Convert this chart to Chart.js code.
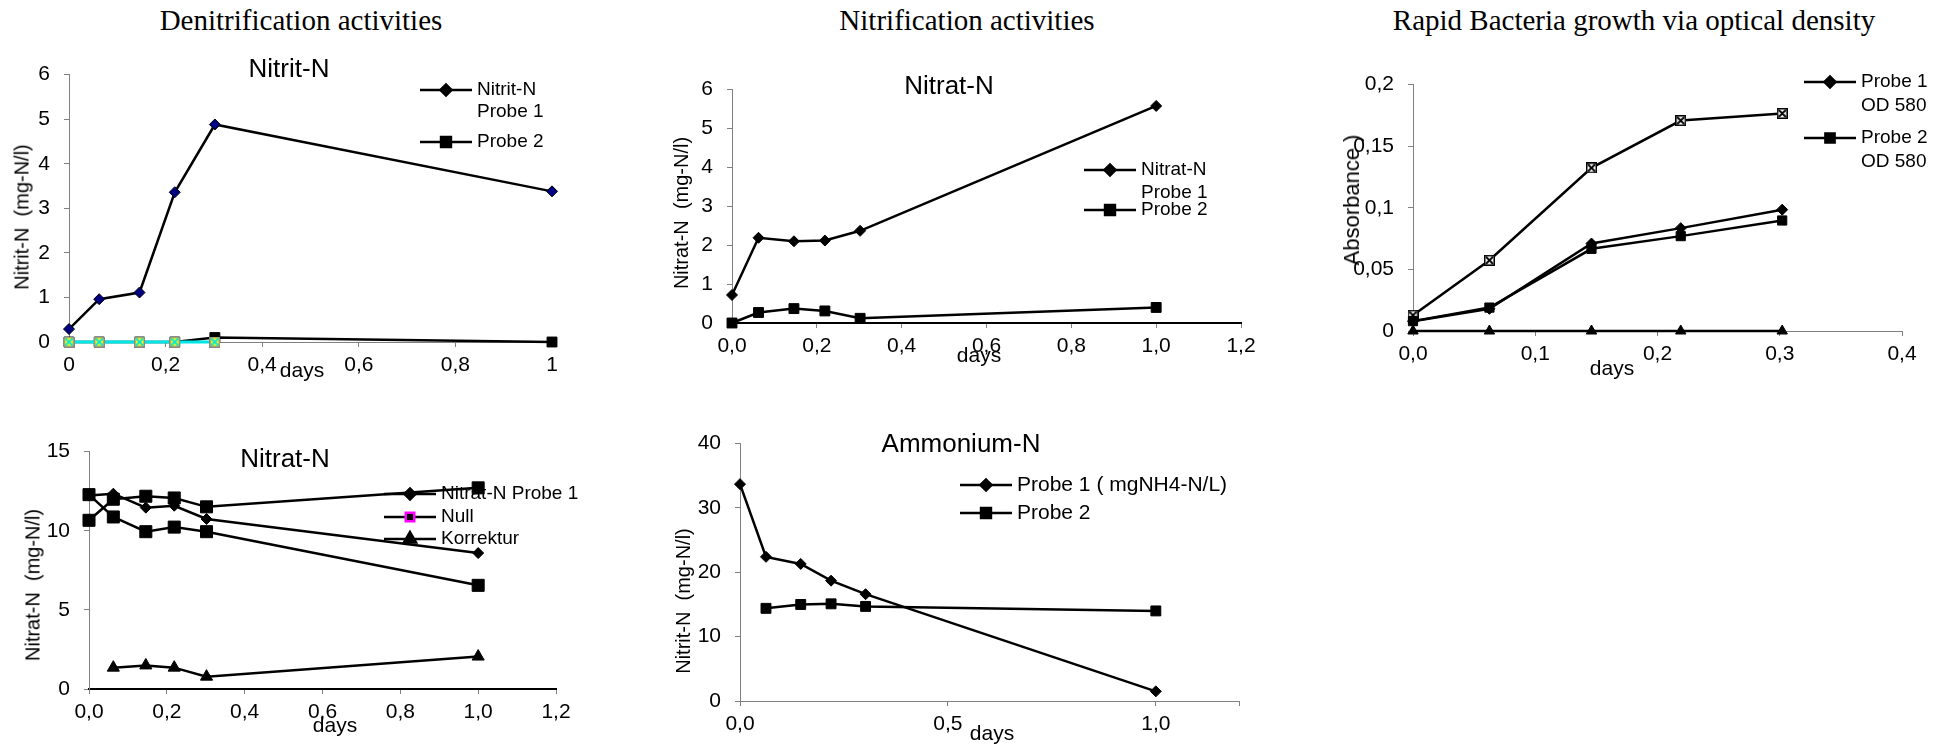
<!DOCTYPE html>
<html>
<head>
<meta charset="utf-8">
<script src="https://cdn.jsdelivr.net/npm/chart.js@4/dist/chart.umd.min.js"></script>
<style>
  body { margin:0; width:1952px; height:747px; background:#fff; position:relative; overflow:hidden; }
  .t { position:absolute; white-space:pre; color:#000; line-height:1; }
  canvas { position:absolute; }
</style>
</head>
<body>
<script>
// sampling times (days)
const days   = [0, 0.0625, 0.146, 0.219, 0.302, 1.0];
const odDays = [0, 0.0625, 0.146, 0.219, 0.302];

// Denitrification - Nitrit-N
const nitritProbe1 = [0.29, 0.96, 1.11, 3.36, 4.88, 3.38];
const nitritProbe2 = [0, 0, 0, 0, 0.1, 0];
const nitritNull   = [0, 0, 0, 0, 0];
const nitritKorr   = [0, 0, 0, 0, 0];

// Nitrification - Nitrat-N
const nitratProbe1 = [0.72, 2.19, 2.10, 2.12, 2.37, 5.58];
const nitratProbe2 = [0, 0.27, 0.37, 0.31, 0.12, 0.40];

// optical density
const odProbe1 = [0.008, 0.018, 0.071, 0.0835, 0.0985];
const odProbe2 = [0.008, 0.019, 0.0667, 0.077, 0.0897];
const odProbe3 = [0.0128, 0.0574, 0.1324, 0.1708, 0.1766];
const odNull   = [0, 0, 0, 0, 0];

// Denitrification - Nitrat-N
const denProbe1 = [12.22, 12.34, 11.46, 11.58, 10.74, 8.59];
const denNull   = [12.28, 10.87, 9.94, 10.23, 9.94, 6.55];
const denProbe2 = [10.66, 11.99, 12.18, 12.07, 11.51, 12.71];
const denKorr   = [null, 1.35, 1.49, 1.35, 0.78, 2.05];

// Ammonium-N
const ammProbe1 = [33.7, 22.4, 21.3, 18.7, 16.6, 1.5];
const ammProbe2 = [null, 14.4, 15.0, 15.1, 14.7, 14.0];

const SANS = '"Liberation Sans", Arial, sans-serif';
const L = 70, T = 20, R = 120, B = 45;

function pts(xs, ys) { return xs.map((x, i) => ({x: x, y: ys[i]})); }
function comma(v) { return String(+v.toFixed(2)).replace('.', ','); }
function comma1(v) { return v.toFixed(1).replace('.', ','); }

function marker(size, fill, edge, cross) {
  const c = document.createElement('canvas');
  c.width = size; c.height = size;
  const g = c.getContext('2d');
  g.fillStyle = fill; g.fillRect(0, 0, size, size);
  g.strokeStyle = edge; g.lineWidth = 1.5; g.strokeRect(0.75, 0.75, size - 1.5, size - 1.5);
  g.strokeStyle = cross; g.lineWidth = 1.8;
  g.beginPath(); g.moveTo(2, 2); g.lineTo(size - 2, size - 2); g.moveTo(size - 2, 2); g.lineTo(2, size - 2); g.stroke();
  return c;
}
const xBox = marker(11, '#fff', '#000', '#000');
const yellowBox = marker(11, '#ffff00', '#888', '#00e5e5');

function line(label, xs, ys, style, radius, extra) {
  return Object.assign({
    label: label, data: pts(xs, ys), clip: false,
    borderColor: '#000', borderWidth: 2.5, tension: 0,
    pointStyle: style, pointRadius: radius, pointHoverRadius: radius,
    pointBackgroundColor: '#000', pointBorderColor: '#000', pointBorderWidth: 1
  }, extra || {});
}

function text(str, cx, cy, font, tf) {
  const d = document.createElement('div');
  d.className = 't';
  d.textContent = str;
  d.style.font = font;
  d.style.left = cx + 'px';
  d.style.top = cy + 'px';
  d.style.transform = 'translate(-50%,-50%) ' + (tf || '');
  document.body.appendChild(d);
}

// legend drawn inside the plot, at the spot the original uses
const panelLegend = {
  id: 'panelLegend',
  afterDraw(chart, args, opts) {
    if (!opts.items) return;
    const ctx = chart.ctx;
    ctx.save();
    opts.items.forEach(it => {
      const ds = chart.data.datasets[it.ds];
      const x = it.x - opts.ox, y = it.y - opts.oy;
      ctx.strokeStyle = ds.borderColor; ctx.lineWidth = 2.5;
      ctx.beginPath(); ctx.moveTo(x, y); ctx.lineTo(x + 52, y); ctx.stroke();
      ctx.fillStyle = it.fill || ds.pointBackgroundColor;
      ctx.strokeStyle = it.stroke || ds.pointBorderColor;
      Chart.helpers.drawPoint(ctx, {pointStyle: ds.pointStyle, radius: it.r || ds.pointRadius, rotation: 0, borderWidth: it.bw || 1}, x + 26, y);
      ctx.fillStyle = '#000';
      ctx.font = (opts.size || 19) + 'px ' + SANS;
      ctx.textBaseline = 'middle';
      ctx.textAlign = 'left';
      ds.label.split('\n').forEach((s, i) => ctx.fillText(s, x + 57, y + i * (it.lh || 23)));
    });
    ctx.restore();
  }
};

function axis(min, max, step, fmt, border, bw, isX) {
  return {
    type: 'linear', min: min, max: max,
    ticks: { stepSize: step, callback: fmt, color: '#000', font: {family: SANS, size: 21},
             padding: isX ? 6 : 14, maxRotation: 0, autoSkip: false },
    grid: { drawOnChartArea: false, tickLength: 5, color: '#808080' },
    border: { color: border, width: bw },
    afterFit(s) { if (isX) s.height = B; else s.width = L; }
  };
}

function panel(area, datasets, xAxis, yAxis, legend, legendSize) {
  const c = document.createElement('canvas');
  const ox = Math.round(area.x0 - L), oy = area.y0 - T;
  const w = Math.round(area.x1) - ox + R, h = area.y1 - area.y0 + T + B;
  c.width = w; c.height = h;
  c.style.left = ox + 'px';
  c.style.top = oy + 'px';
  c.style.width = w + 'px';
  c.style.height = h + 'px';
  document.body.appendChild(c);
  new Chart(c, {
    type: 'line',
    data: { datasets: datasets },
    options: {
      responsive: false, animation: false, devicePixelRatio: 1,
      layout: { padding: { top: T, right: R, left: 0, bottom: 0 } },
      plugins: { legend: { display: false }, tooltip: { enabled: false },
                 panelLegend: { items: legend, ox: ox, oy: oy, size: legendSize } },
      scales: { x: xAxis, y: yAxis }
    },
    plugins: [panelLegend]
  });
}

// --- Denitrification: Nitrit-N
panel({x0: 69, y0: 68, x1: 552, y1: 342}, [
  line('Null', odDays, nitritNull, yellowBox, 5, {showLine: false}),
  line('Korrektur', odDays, nitritKorr, 'circle', 0, {borderColor: '#00e5e5', borderWidth: 3}),
  line('Nitrit-N\nProbe 1', days, nitritProbe1, 'rectRot', 5.5, {pointBackgroundColor: '#000080'}),
  line('Probe 2', days, nitritProbe2, 'rect', 7)
], axis(0, 1, 0.2, comma, '#808080', 1, true), axis(0, 6, 1, v => v, '#808080', 1, false),
[{ds: 2, x: 420, y: 90, lh: 22}, {ds: 3, x: 420, y: 142}]);

// --- Nitrification: Nitrat-N
panel({x0: 732, y0: 83, x1: 1241, y1: 323}, [
  line('Nitrat-N\nProbe 1', days, nitratProbe1, 'rectRot', 5.5),
  line('Probe 2', days, nitratProbe2, 'rect', 7)
], axis(0, 1.2, 0.2, comma1, '#000', 2, true), axis(0, 6, 1, v => v, '#808080', 1, false),
[{ds: 0, x: 1084, y: 170, lh: 23}, {ds: 1, x: 1084, y: 210}]);

// --- Optical density
panel({x0: 1413, y0: 78, x1: 1902, y1: 331}, [
  line('Probe 1\nOD 580', odDays, odProbe1, 'rectRot', 5.5),
  line('Probe 2\nOD 580', odDays, odProbe2, 'rect', 6.5),
  line('Probe 3', odDays, odProbe3, xBox, 5),
  line('Null', odDays, odNull, 'triangle', 6)
], axis(0, 0.4, 0.1, comma1, '#808080', 1, true), axis(0, 0.2, 0.05, comma, '#808080', 1, false),
[{ds: 0, x: 1804, y: 82, lh: 24}, {ds: 1, x: 1804, y: 138, lh: 24}]);

// --- Denitrification: Nitrat-N
panel({x0: 89, y0: 445, x1: 556, y1: 689}, [
  line('Nitrat-N Probe 1', days, denProbe1, 'rectRot', 5.5),
  line('Null', days, denNull, 'rect', 8.5),
  line('Probe 2', days, denProbe2, 'rect', 8.5),
  line('Korrektur', days, denKorr, 'triangle', 7)
], axis(0, 1.2, 0.2, comma1, '#000', 2, true), axis(0, 15, 5, v => v, '#808080', 1, false),
[{ds: 0, x: 384, y: 494}, {ds: 1, x: 384, y: 517, r: 6, stroke: '#ff00ff', bw: 2}, {ds: 3, x: 384, y: 539}]);

// --- Ammonium-N
panel({x0: 740, y0: 437, x1: 1239, y1: 701}, [
  line('Probe 1 ( mgNH4-N/L)', days, ammProbe1, 'rectRot', 5.5),
  line('Probe 2', days, ammProbe2, 'rect', 7)
], axis(0, 1.2, 0.5, v => (Math.abs(v * 2 - Math.round(v * 2)) < 1e-9 ? comma1(v) : ''), '#808080', 1, true),
   axis(0, 40, 10, v => v, '#808080', 1, false),
[{ds: 0, x: 960, y: 485}, {ds: 1, x: 960, y: 513}], 21);

// headings
const SERIF = '29px "Liberation Serif", "Times New Roman", serif';
text('Denitrification activities', 301, 20, SERIF);
text('Nitrification activities', 967, 20, SERIF);
text('Rapid Bacteria growth via optical density', 1634, 20, SERIF);

// chart titles
const TF = '26px ' + SANS;
text('Nitrit-N', 289, 68, TF);
text('Nitrat-N', 949, 85, TF);
text('Nitrat-N', 285, 458, TF);
text('Ammonium-N', 961, 443, TF);

// axis titles
const ROT = 'rotate(-90deg)';
text('Nitrit-N  (mg-N/l)', 22, 217, '20px ' + SANS, ROT);
text('Nitrat-N  (mg-N/l)', 681, 213, '20px ' + SANS, ROT);
text('Absorbance )', 1352, 200, '22px ' + SANS, ROT);
text('Nitrat-N  (mg-N/l)', 33, 585, '20px ' + SANS, ROT);
text('Nitrit-N  (mg-N/l)', 683, 601, '20px ' + SANS, ROT);

const DF = '21px ' + SANS;
text('days', 302, 370, DF);
text('days', 979, 355, DF);
text('days', 1612, 368, DF);
text('days', 335, 725, DF);
text('days', 992, 733, DF);
</script>
</body>
</html>
